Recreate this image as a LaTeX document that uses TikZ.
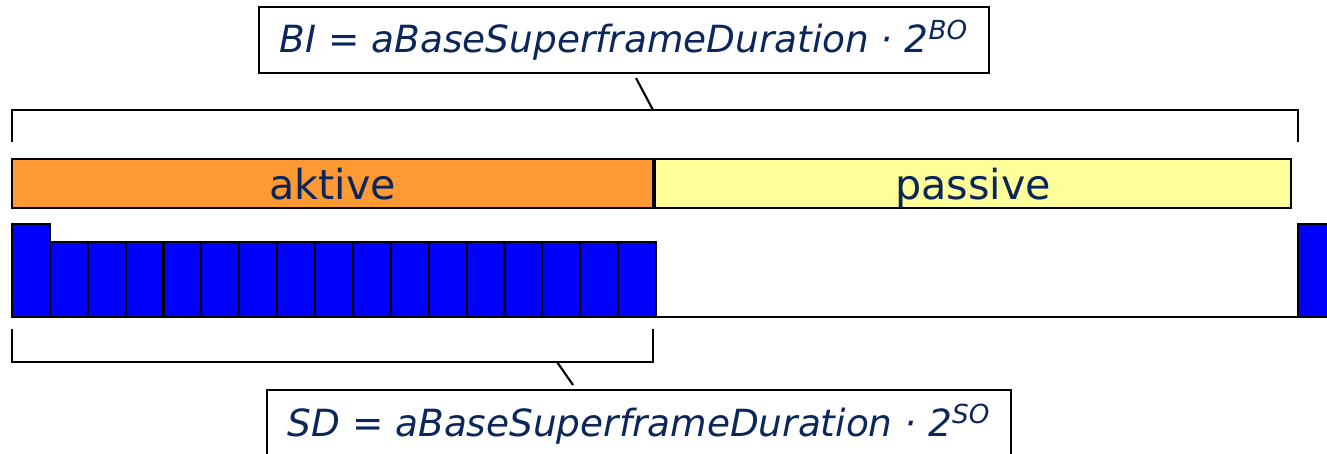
\documentclass[tikz,border=0pt]{standalone}
\usepackage{fontspec}
\setmainfont{DejaVu Sans}

\definecolor{textblau}{RGB}{10,38,90}
\definecolor{aktivorange}{RGB}{255,153,51}
\definecolor{passivgelb}{RGB}{255,255,153}
\definecolor{slotblau}{RGB}{0,0,255}

\tikzset{
  formelbox/.style={draw, line width=1.2pt, fill=white, text=textblau,
    font=\fontsize{21.3pt}{25pt}\selectfont\itshape, inner sep=0pt},
  balken/.style={draw, line width=1.2pt, text=textblau, inner sep=0pt,
    minimum height=0.98cm, text height=18.7pt, text depth=0pt,
    font=\fontsize{23.5pt}{27pt}\selectfont},
  slot/.style={draw, line width=1.2pt, fill=slotblau},
}

\begin{document}
\begin{tikzpicture}[x=0.02cm, y=-0.02cm, line width=1.2pt]

                  \useasboundingbox (0,0) rectangle (1327,453);

                  % Formula boxes
                  \node[formelbox, minimum width=14.6cm, minimum height=1.32cm] (bi) at (624,40)
                      {BI = aBaseSuperframeDuration · 2\textsuperscript{BO}};
                  \node[formelbox, minimum width=14.88cm, minimum height=1.36cm] (sd) at (639,424)
                      {SD = aBaseSuperframeDuration · 2\textsuperscript{SO}};

                  % Bracket for the beacon interval
                  \draw (12,142) -- (12,110) -- (1298,110) -- (1298,142);
                  \coordinate (bispitze) at (653,110);
                  \draw ([shift={(12,4)}]bi.south) -- (bispitze);

                  % Active and passive part
                  \node[balken, fill=aktivorange, minimum width=12.82cm] (aktive) at (332.5,183.5) {aktive};
                  \node[balken, fill=passivgelb, minimum width=12.72cm, anchor=west] (passive) at (aktive.east) {passive};

                  % Time slots, the first one (beacon) is taller
                  \draw[slot] (12,224) rectangle (49.88,317);
                  \foreach \i in {1,...,16}
                      \draw[slot] ({12+\i*37.88},242) rectangle ({12+(\i+1)*37.88},317);

                  % Time line and next beacon
                  \draw (656,317) -- (1298,317);
                  \draw[slot] (1298,224) rectangle (1340,317);

                  % Bracket for the superframe duration
                  \draw (12,329) -- (12,362) -- (653,362) -- (653,329);
                  \coordinate (sdspitze) at (557,362);
                  \draw ([shift={(-66,-4)}]sd.north) -- (sdspitze);

              \end{tikzpicture}
\end{document}
